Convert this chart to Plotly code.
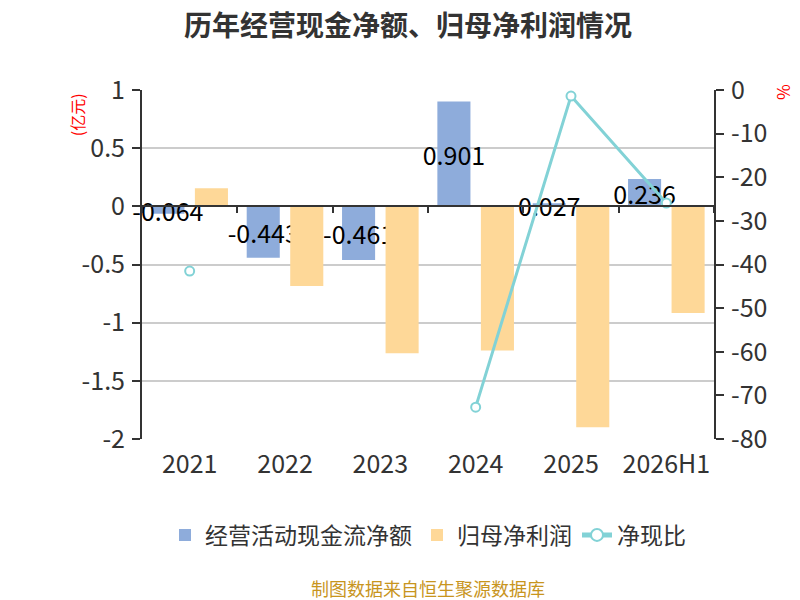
import plotly.graph_objects as go

# Data
years = ['2021', '2022', '2023', '2024', '2025', '2026H1']
cash_flow = [-0.064, -0.443, -0.461, 0.901, 0.027, 0.236]      # 经营活动现金流净额 (亿元)
net_profit = [0.156, -0.684, -1.262, -1.240, -1.900, -0.916]   # 归母净利润 (亿元)
cash_ratio = [-41.5, None, None, -72.7, -1.4, -25.9]           # 净现比 (%)
left_ticks = [1, 0.5, 0, -0.5, -1, -1.5, -2]
right_ticks = [0, -10, -20, -30, -40, -50, -60, -70, -80]

font_family = 'Noto Sans CJK SC'

fig = go.Figure()

fig.add_trace(go.Bar(
    x=years, y=cash_flow, name='经营活动现金流净额',
    marker=dict(color='#8eacdb', line=dict(width=0)),
    text=[str(v) for v in cash_flow],
    textposition='inside', insidetextanchor='middle', textangle=0,
    textfont=dict(color='black', size=25),
    cliponaxis=False,
))
fig.add_trace(go.Bar(
    x=years, y=net_profit, name='归母净利润',
    marker=dict(color='#fed898', line=dict(width=0)),
))
fig.add_trace(go.Scatter(
    x=years, y=cash_ratio, name='净现比', yaxis='y2',
    mode='lines+markers', connectgaps=False,
    line=dict(color='#82d2d6', width=3),
    marker=dict(symbol='circle', size=9, color='white',
                line=dict(color='#82d2d6', width=2)),
    cliponaxis=False,
))
# invisible trace to draw the category axis on the zero line
fig.add_trace(go.Scatter(
    x=years, y=[0] * len(years), xaxis='x2', mode='markers',
    marker=dict(opacity=0), showlegend=False, hoverinfo='skip',
))

fig.update_layout(
    width=800, height=600,
    paper_bgcolor='white', plot_bgcolor='white',
    font=dict(family=font_family, color='#333333', size=24),
    title=dict(text='<b>历年经营现金净额、归母净利润情况</b>', x=0.5, y=0.97,
               xanchor='center', yanchor='middle',
               font=dict(size=28, color='#333333')),
    margin=dict(l=134, r=94, t=82, b=169, autoexpand=False),
    barmode='group', bargap=0.087, bargroupgap=0.24,
    uniformtext=dict(mode='show', minsize=25),
    xaxis=dict(
        type='category', categoryarray=years, range=[-0.5, 5.5],
        showline=False, ticks='', showgrid=False,
        tickfont=dict(size=25, color='#333333'), ticklabelstandoff=8,
    ),
    xaxis2=dict(
        type='category', categoryarray=years, range=[-0.5, 5.5],
        overlaying='x', anchor='free', position=2 / 3,
        showline=True, linecolor='#333333', linewidth=2,
        ticks='outside', tickson='boundaries', ticklen=6,
        tickcolor='#333333', tickwidth=2,
        showticklabels=False, showgrid=False,
    ),
    yaxis=dict(
        range=[-2, 1], tickvals=left_ticks,
        ticktext=[str(v) for v in left_ticks],
        showline=True, linecolor='#333333', linewidth=2,
        ticks='outside', ticklen=8, tickcolor='#333333', tickwidth=2,
        showgrid=True, gridcolor='#cccccc', gridwidth=1.5,
        zeroline=False, tickfont=dict(size=25, color='#333333'),
        ticklabelstandoff=2,
    ),
    yaxis2=dict(
        range=[-80, 0], tickvals=right_ticks,
        ticktext=[str(v) for v in right_ticks],
        overlaying='y', side='right',
        showline=True, linecolor='#333333', linewidth=2,
        ticks='outside', ticklen=8, tickcolor='#333333', tickwidth=2,
        showgrid=False, zeroline=False,
        tickfont=dict(size=25, color='#333333'), ticklabelstandoff=2,
    ),
    legend=dict(
        orientation='h', x=0.5, xanchor='center',
        y=-0.275, yanchor='middle',
        font=dict(size=23, color='#333333'), itemsizing='constant',
        itemwidth=30,
    ),
    showlegend=True,
)

fig.add_annotation(text='(亿元)', xref='paper', yref='paper',
                   x=-0.1136, y=0.928, xanchor='center', yanchor='middle',
                   showarrow=False, textangle=-90,
                   font=dict(size=16, color='red'))
fig.add_annotation(text='%', xref='paper', yref='paper',
                   x=1.124, y=0.994, xanchor='center', yanchor='middle',
                   showarrow=False, textangle=90,
                   font=dict(size=17, color='red'))
fig.add_annotation(text='制图数据来自恒生聚源数据库', xref='paper', yref='paper',
                   x=0.5, y=-0.427, xanchor='center', yanchor='middle',
                   showarrow=False,
                   font=dict(size=18, color='#c8951e'))

fig.write_html("out.html")
